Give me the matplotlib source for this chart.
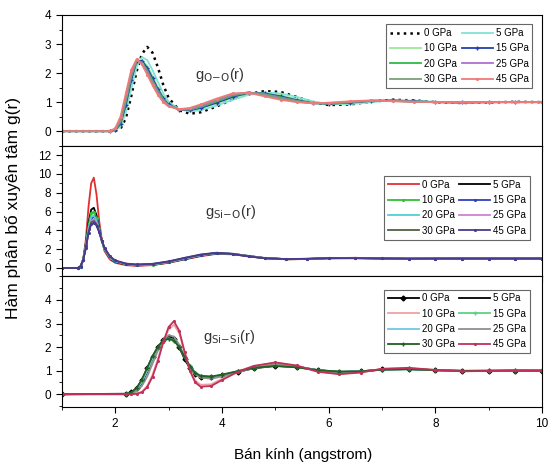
import numpy as np
import matplotlib
matplotlib.use("Agg")
import matplotlib.pyplot as plt
from matplotlib.ticker import MultipleLocator

plt.rcParams['font.family'] = ['Liberation Sans', 'DejaVu Sans']

pressures = ["0 GPa", "5 GPa", "10 GPa", "15 GPa", "20 GPa", "25 GPa", "30 GPa", "45 GPa"]

# g_O-O(r)
r_oo = [1.0, 1.9, 2.0, 2.1, 2.2, 2.3, 2.4, 2.5, 2.6, 2.7, 2.8, 2.9, 3.0, 3.2, 3.4, 3.6,
        3.9, 4.2, 4.5, 4.8, 5.1, 5.4, 5.7, 6.0, 6.4, 6.8, 7.2, 7.6, 8.0, 8.5, 9.0, 9.5, 10.0]
g_oo = [
    [0, 0, 0.01, 0.08, 0.45, 1.2, 2.05, 2.65, 2.9, 2.7, 2.2, 1.6, 1.15, 0.72, 0.6, 0.65, 0.85, 1.1, 1.28, 1.38, 1.35, 1.18, 1.0, 0.9, 0.92, 1.02, 1.08, 1.06, 1.0, 0.97, 0.99, 1.01, 1.0],
    [0, 0, 0.02, 0.15, 0.65, 1.45, 2.2, 2.55, 2.45, 2.1, 1.7, 1.3, 1.02, 0.75, 0.68, 0.72, 0.88, 1.08, 1.25, 1.33, 1.3, 1.18, 1.03, 0.93, 0.93, 1.0, 1.06, 1.05, 1.01, 0.98, 0.99, 1.0, 1.0],
    [0, 0, 0.03, 0.2, 0.8, 1.65, 2.35, 2.45, 2.25, 1.9, 1.5, 1.18, 0.95, 0.75, 0.72, 0.78, 0.95, 1.15, 1.3, 1.32, 1.24, 1.1, 0.98, 0.93, 0.96, 1.03, 1.06, 1.04, 1.0, 0.98, 1.0, 1.0, 1.0],
    [0, 0, 0.04, 0.25, 0.9, 1.75, 2.4, 2.42, 2.18, 1.82, 1.45, 1.13, 0.92, 0.74, 0.72, 0.8, 0.98, 1.18, 1.32, 1.3, 1.2, 1.07, 0.97, 0.94, 0.98, 1.04, 1.06, 1.03, 1.0, 0.99, 1.0, 1.0, 1.0],
    [0, 0, 0.05, 0.3, 1.0, 1.85, 2.42, 2.38, 2.1, 1.75, 1.4, 1.1, 0.9, 0.74, 0.74, 0.83, 1.02, 1.22, 1.33, 1.28, 1.17, 1.05, 0.96, 0.95, 0.99, 1.05, 1.05, 1.02, 1.0, 0.99, 1.0, 1.0, 1.0],
    [0, 0, 0.06, 0.35, 1.08, 1.92, 2.43, 2.35, 2.05, 1.7, 1.35, 1.07, 0.88, 0.74, 0.75, 0.85, 1.05, 1.25, 1.34, 1.26, 1.14, 1.03, 0.96, 0.96, 1.0, 1.05, 1.04, 1.02, 1.0, 0.99, 1.0, 1.0, 1.0],
    [0, 0, 0.07, 0.4, 1.15, 2.0, 2.45, 2.32, 2.0, 1.65, 1.3, 1.05, 0.87, 0.75, 0.77, 0.88, 1.08, 1.27, 1.33, 1.24, 1.12, 1.02, 0.96, 0.97, 1.01, 1.05, 1.04, 1.01, 1.0, 0.99, 1.0, 1.0, 1.0],
    [0, 0, 0.1, 0.5, 1.3, 2.1, 2.47, 2.3, 1.95, 1.58, 1.25, 1.0, 0.85, 0.76, 0.8, 0.92, 1.12, 1.3, 1.32, 1.2, 1.08, 1.0, 0.96, 0.98, 1.03, 1.06, 1.03, 1.01, 1.0, 1.0, 1.0, 1.0, 1.0],
]

# g_Si-O(r)
r_sio = [1.0, 1.3, 1.35, 1.4, 1.45, 1.5, 1.55, 1.6, 1.65, 1.7, 1.75, 1.8, 1.9, 2.0, 2.2, 2.4, 2.7, 3.0,
         3.3, 3.6, 3.9, 4.2, 4.5, 4.8, 5.2, 5.6, 6.0, 6.5, 7.0, 7.5, 8.0, 8.5, 9.0, 9.5, 10.0]
g_sio = [
    [0, 0, 0.1, 0.8, 3.0, 6.5, 9.0, 9.6, 7.8, 5.0, 3.0, 1.8, 0.9, 0.55, 0.3, 0.22, 0.3, 0.55, 0.9, 1.25, 1.5, 1.45, 1.25, 1.05, 0.92, 0.95, 1.05, 1.08, 1.02, 0.98, 0.99, 1.0, 1.0, 1.0, 1.0],
    [0, 0, 0.15, 0.9, 2.6, 4.8, 6.2, 6.4, 5.6, 4.2, 2.9, 2.0, 1.05, 0.65, 0.38, 0.28, 0.33, 0.58, 0.95, 1.3, 1.55, 1.5, 1.28, 1.06, 0.93, 0.95, 1.04, 1.07, 1.02, 0.98, 0.99, 1.0, 1.0, 1.0, 1.0],
    [0, 0, 0.15, 0.9, 2.5, 4.5, 5.8, 6.0, 5.3, 4.1, 2.9, 2.0, 1.1, 0.7, 0.4, 0.3, 0.35, 0.6, 0.98, 1.33, 1.57, 1.5, 1.27, 1.05, 0.93, 0.96, 1.04, 1.06, 1.02, 0.98, 0.99, 1.0, 1.0, 1.0, 1.0],
    [0, 0, 0.15, 0.85, 2.3, 4.1, 5.3, 5.5, 5.0, 4.0, 2.9, 2.05, 1.15, 0.72, 0.42, 0.32, 0.38, 0.63, 1.0, 1.36, 1.58, 1.5, 1.26, 1.05, 0.94, 0.96, 1.04, 1.05, 1.01, 0.99, 0.99, 1.0, 1.0, 1.0, 1.0],
    [0, 0, 0.16, 0.9, 2.35, 4.2, 5.4, 5.6, 5.05, 4.0, 2.9, 2.0, 1.12, 0.71, 0.41, 0.31, 0.37, 0.62, 0.99, 1.35, 1.58, 1.5, 1.26, 1.05, 0.94, 0.96, 1.04, 1.05, 1.01, 0.99, 0.99, 1.0, 1.0, 1.0, 1.0],
    [0, 0, 0.16, 0.85, 2.2, 3.9, 5.0, 5.2, 4.8, 3.9, 2.9, 2.1, 1.2, 0.75, 0.44, 0.34, 0.4, 0.66, 1.03, 1.38, 1.6, 1.5, 1.25, 1.04, 0.94, 0.97, 1.04, 1.05, 1.01, 0.99, 1.0, 1.0, 1.0, 1.0, 1.0],
    [0, 0, 0.17, 0.85, 2.15, 3.8, 4.85, 5.0, 4.65, 3.85, 2.9, 2.1, 1.22, 0.77, 0.45, 0.35, 0.42, 0.68, 1.05, 1.4, 1.6, 1.49, 1.24, 1.04, 0.95, 0.97, 1.04, 1.04, 1.01, 0.99, 1.0, 1.0, 1.0, 1.0, 1.0],
    [0, 0, 0.18, 0.85, 2.1, 3.7, 4.65, 4.8, 4.5, 3.8, 2.9, 2.15, 1.25, 0.8, 0.47, 0.37, 0.44, 0.7, 1.08, 1.43, 1.62, 1.48, 1.22, 1.03, 0.95, 0.98, 1.04, 1.04, 1.01, 0.99, 1.0, 1.0, 1.0, 1.0, 1.0],
]

# g_Si-Si(r)
r_sisi = [1.0, 2.2, 2.3, 2.4, 2.5, 2.6, 2.7, 2.8, 2.9, 3.0, 3.1, 3.2, 3.3, 3.4, 3.5, 3.6,
          3.8, 4.0, 4.3, 4.6, 5.0, 5.4, 5.8, 6.2, 6.6, 7.0, 7.5, 8.0, 8.5, 9.0, 9.5, 10.0]
g_sisi = [
    [0, 0.02, 0.08, 0.25, 0.6, 1.1, 1.6, 2.0, 2.3, 2.42, 2.35, 2.0, 1.5, 1.1, 0.85, 0.75, 0.72, 0.8, 0.95, 1.1, 1.2, 1.15, 1.02, 0.95, 0.97, 1.05, 1.07, 1.02, 0.99, 0.99, 1.0, 1.0],
    [0, 0.01, 0.05, 0.18, 0.48, 0.95, 1.5, 1.95, 2.28, 2.4, 2.32, 2.0, 1.55, 1.15, 0.88, 0.76, 0.72, 0.8, 0.96, 1.12, 1.25, 1.18, 1.02, 0.94, 0.96, 1.05, 1.07, 1.02, 0.99, 0.99, 1.0, 1.0],
    [0, 0, 0.0, 0.03, 0.1, 0.35, 0.82, 1.5, 2.2, 2.75, 2.95, 2.6, 1.8, 1.05, 0.58, 0.4, 0.42, 0.65, 0.98, 1.2, 1.33, 1.2, 0.96, 0.87, 0.93, 1.07, 1.1, 1.03, 0.98, 0.99, 1.0, 1.0],
    [0, 0.01, 0.06, 0.22, 0.55, 1.05, 1.55, 1.95, 2.25, 2.35, 2.3, 2.05, 1.6, 1.2, 0.9, 0.78, 0.74, 0.82, 0.98, 1.12, 1.22, 1.15, 1.02, 0.95, 0.97, 1.04, 1.06, 1.02, 0.99, 1.0, 1.0, 1.0],
    [0, 0.01, 0.05, 0.2, 0.52, 1.0, 1.52, 1.95, 2.27, 2.38, 2.3, 2.02, 1.58, 1.18, 0.9, 0.78, 0.73, 0.81, 0.97, 1.12, 1.23, 1.16, 1.02, 0.95, 0.97, 1.04, 1.06, 1.02, 0.99, 1.0, 1.0, 1.0],
    [0, 0.0, 0.03, 0.12, 0.35, 0.75, 1.3, 1.85, 2.3, 2.5, 2.45, 2.1, 1.6, 1.15, 0.85, 0.7, 0.66, 0.75, 0.93, 1.12, 1.26, 1.18, 1.0, 0.92, 0.95, 1.05, 1.08, 1.02, 0.99, 0.99, 1.0, 1.0],
    [0, 0.01, 0.07, 0.25, 0.62, 1.12, 1.62, 2.0, 2.28, 2.36, 2.28, 2.0, 1.58, 1.18, 0.9, 0.78, 0.75, 0.83, 0.98, 1.12, 1.2, 1.14, 1.02, 0.96, 0.97, 1.04, 1.06, 1.02, 0.99, 1.0, 1.0, 1.0],
    [0, 0, 0.0, 0.02, 0.08, 0.3, 0.75, 1.4, 2.2, 2.85, 3.1, 2.7, 1.8, 1.0, 0.5, 0.32, 0.35, 0.6, 0.95, 1.2, 1.35, 1.22, 0.95, 0.85, 0.92, 1.08, 1.12, 1.03, 0.97, 0.99, 1.01, 1.0],
]

# styles (color, linestyle, marker) per pressure, per panel
sty_oo = [("black", ":", None), ("#7fe3d6", "-", None), ("#9be89b", "-", None), ("#2340b0", "-", "+"),
          ("#2fb84a", "-", None), ("#b070d0", "-", None), ("#7aa07a", "-", None), ("#f07a7a", "-", ".")]
sty_sio = [("#e03030", "-", None), ("black", "-", None), ("#30c030", "-", "."), ("#3040c0", "-", "."),
           ("#50d0d8", "-", None), ("#d080d8", "-", None), ("#506040", "-", None), ("#4a3a8f", "-", ".")]
sty_sisi = [("black", "-", "D"), ("black", "-", None), ("#f0a0a0", "-", None), ("#60d080", "-", "+"),
            ("#70c8e8", "-", None), ("#909090", "-", None), ("#206020", "-", "+"), ("#c0305a", "-", ".")]

fig, axes = plt.subplots(3, 1, sharex=True, figsize=(5.52, 4.68), dpi=100)
fig.subplots_adjust(left=0.112, right=0.982, top=0.968, bottom=0.130, hspace=0)

panels = [
    (axes[0], r_oo, g_oo, sty_oo, (-0.5, 4), [0, 1, 2, 3, 4], 0.5,
     r'g$_{\mathrm{O\!-\!O}}$(r)', (0.278, 0.54), (0.98, 0.93)),
    (axes[1], r_sio, g_sio, sty_sio, (-0.9, 13), [0, 2, 4, 6, 8, 10, 12], 1,
     r'g$_{\mathrm{Si\!-\!O}}$(r)', (0.299, 0.49), (0.975, 0.77)),
    (axes[2], r_sisi, g_sisi, sty_sisi, (-0.55, 5), [0, 1, 2, 3, 4], 0.5,
     r'g$_{\mathrm{Si\!-\!Si}}$(r)', (0.295, 0.535), (0.975, 0.90)),
]

order = [0, 2, 4, 6, 1, 3, 5, 7]  # legend reads row by row

for ax, r, gs, sty, ylim, yt, ymin, lab, pos, lpos in panels:
    lines = []
    for g, (c, ls, mk), p in zip(gs, sty, pressures):
        lw = 1.8 if ls == ":" else 1.3
        ln, = ax.plot(r, g, color=c, ls=ls, marker=mk, ms=2.5, lw=lw, label=p)
        lines.append(ln)
    ax.set_ylim(*ylim)
    ax.set_yticks(yt)
    ax.yaxis.set_minor_locator(MultipleLocator(ymin))
    ax.xaxis.set_minor_locator(MultipleLocator(1))
    ax.tick_params(which='major', direction='out', length=4, labelsize=8.5, width=0.8)
    ax.tick_params(which='minor', direction='out', length=2, width=0.6)
    ax.text(pos[0], pos[1], lab, transform=ax.transAxes, fontsize=10.5, va='center', color='#333333')
    leg = ax.legend([lines[i] for i in order], [pressures[i] for i in order], ncol=2,
                    loc='upper right', bbox_to_anchor=lpos, fontsize=7, frameon=True,
                    fancybox=False, edgecolor='#666666', framealpha=1, numpoints=1,
                    handlelength=3.2, handletextpad=0.3, columnspacing=0.5,
                    labelspacing=0.55, borderpad=0.4, borderaxespad=0)
    leg.get_frame().set_linewidth(0.8)

axes[2].set_xlim(1, 10)
axes[2].set_xticks([2, 4, 6, 8, 10])

fig.text(0.024, 0.555, "Hàm phân bố xuyên tâm g(r)", rotation=90, ha='center', va='center', fontsize=12.5)
fig.text(0.55, 0.028, "Bán kính (angstrom)", ha='center', va='center', fontsize=11)

fig.savefig("out.png", dpi=100)
